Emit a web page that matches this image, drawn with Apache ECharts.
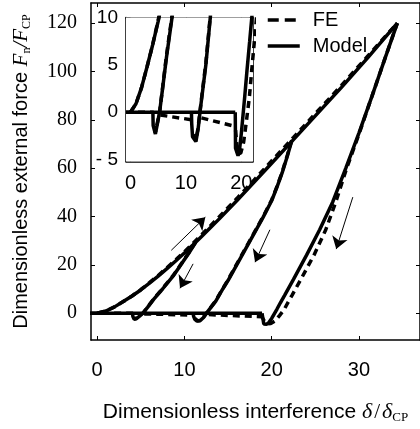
<!DOCTYPE html>
<html>
<head>
<meta charset="UTF-8">
<title>Force - interference</title>
<script src="https://cdn.jsdelivr.net/npm/echarts@6.0.0/dist/echarts.min.js"></script>
</head>
<body style="margin:0;background:#fff">
<div id="chart" style="width:420px;height:429px"></div>
<script>
// model curves (solid)
var loadX = [0, 1, 2, 3, 4, 5, 6, 7, 8, 9, 10, 11, 12, 13, 14, 16, 18, 20, 22.5, 25, 28, 31, 34.4];
var loadY = [0, 0.9, 2.6, 4.8, 7.1, 9.6, 12.4, 15.3, 18.4, 21.6, 24.9, 28.3, 31.8, 35.4, 39, 46.5, 54.2, 62, 71.8, 81.6, 93.4, 105.6, 120];
var un1X = [11.3, 10.5, 9.6, 8.7, 7.5, 6.5, 5.8, 5.3, 4.9, 4.5, 4.25, 4.1, 4.05];
var un1Y = [29.3, 24.8, 20, 15.3, 10, 5.8, 2.5, 0.2, -1.1, -2.3, -2.5, -1.4, 0];
var un2X = [22.3, 21.8, 21.2, 20.6, 20, 19, 18, 17, 16, 15, 14.4, 13.6, 12.6, 12.2, 11.8, 11.45, 11.2, 11.05, 11.0];
var un2Y = [71.2, 65, 58, 52, 46.5, 39.5, 33, 26.5, 20, 13.5, 10, 5, 0.3, -1.8, -3.1, -3.3, -2.6, -1.2, 0];
var un3X = [34.4, 33, 31.5, 30, 28.5, 27, 25.5, 24, 22.5, 21.5, 21, 20.6, 20.3, 20, 19.7, 19.4, 19.1, 18.95, 18.9];
var un3Y = [120, 105.5, 89.8, 74.5, 60, 46, 34.5, 24, 14, 7.5, 4.3, 1.6, -0.3, -2.2, -3.8, -4.6, -4.5, -3.8, 0];
var zeroX = [-0.8, 18.9];
var zeroY = [0, 0];

// FE curves (dashed)
var feLoadX = loadX;
var feLoadY = [0, 0.9, 2.6, 4.8, 7.1, 9.7, 12.6, 15.6, 18.8, 22, 25.4, 28.9, 32.5, 36.2, 39.9, 47.4, 55.1, 63, 72.7, 82.5, 94.2, 106.3, 120];
var feUn1X = [11.3, 10.5, 9.6, 8.7, 7.5, 6.5, 5.8, 5.3, 4.9, 4.55, 4.35];
var feUn1Y = [29.5, 25, 20.2, 15.5, 10.2, 6, 2.6, 0.2, -1, -2, -2.2];
var feUn2X = [22.3, 21.8, 21.2, 20.6, 20, 19, 18, 17, 16, 15, 14.4, 13.6, 12.6, 12.2, 11.8, 11.5, 11.25];
var feUn2Y = [71.5, 65.3, 58.3, 52.3, 46.8, 39.8, 33.3, 26.8, 20.3, 13.8, 10.2, 5.2, 0.4, -1.6, -3, -3.2, -2.2];
var feUn3X = [34.4, 33, 31.5, 30.05, 28.6, 27.35, 26.2, 24.85, 23.35, 22.35, 21.85, 21.45, 20.9, 20.4, 19.9, 19.5, 19.2, 19.0, 18.9];
var feUn3Y = [120, 105.5, 89.8, 74.5, 60, 46, 34.5, 24, 14, 7.5, 4.3, 1.6, -1.0, -3.2, -4.3, -4.4, -3.5, -2.2, -1.5];
var feZ0X = [-0.8, 4.2], feZ0Y = [0, 0];
var feZ1X = [5.4, 11.1], feZ1Y = [-0.3, -0.8];
var feZ2X = [12.8, 18.9], feZ2Y = [-0.6, -1.5];

// arrows: [tail, head]
var arrows = [
  [[8.5, 26.0], [12.4, 39.7]],
  [[11.0, 20.4], [9.5, 10.3]],
  [[19.8, 34.5], [18.1, 21.1]],
  [[29.3, 48.0], [27.4, 26.5]]
];

// ticks
var mainXTicks = [0, 10, 20, 30];
var mainYTicks = [0, 20, 40, 60, 80, 100, 120];
var insetXTicks = [0, 10, 20];
var insetYTicks = [-5, 0, 5, 10];

var SANS = "'Liberation Sans', Arial, sans-serif";
var SERIF = "'Liberation Serif', 'Times New Roman', serif";

function pts(xs, ys) {
  return xs.map(function (x, i) { return [x, ys[i]]; });
}

var modelCurves = [[loadX, loadY], [un1X, un1Y], [un2X, un2Y], [un3X, un3Y], [zeroX, zeroY]];
var feCurves = [[feLoadX, feLoadY], [feUn1X, feUn1Y], [feUn2X, feUn2Y], [feUn3X, feUn3Y],
  [feZ0X, feZ0Y], [feZ1X, feZ1Y], [feZ2X, feZ2Y]];

var series = [];
[0, 2].forEach(function (ax) {
  modelCurves.forEach(function (c) {
    series.push({
      name: 'Model', type: 'line', xAxisIndex: ax, yAxisIndex: ax,
      data: pts(c[0], c[1]), symbol: 'none', showSymbol: false, z: 3,
      lineStyle: { color: '#000', width: 3.5 }, itemStyle: { color: '#000' }
    });
  });
  feCurves.forEach(function (c) {
    series.push({
      name: 'FE', type: 'line', xAxisIndex: ax, yAxisIndex: ax,
      data: pts(c[0], c[1]), symbol: 'none', showSymbol: false, z: 4,
      lineStyle: { color: '#000', width: 3.5, type: [7, 5] }, itemStyle: { color: '#000' }
    });
  });
});
series.push({
  type: 'lines', coordinateSystem: 'cartesian2d', xAxisIndex: 0, yAxisIndex: 0,
  symbol: ['none', 'arrow'], symbolSize: 12, silent: true, z: 5,
  lineStyle: { color: '#000', width: 1, opacity: 1 },
  data: arrows.map(function (a) { return { coords: a }; })
});

function frameAxis(extra) {
  var base = {
    type: 'value',
    axisLine: { show: true, onZero: false, lineStyle: { color: '#000', width: 1.5 } },
    axisTick: { show: true, inside: true, length: 4, lineStyle: { color: '#000', width: 1 } },
    axisLabel: { show: false },
    splitLine: { show: false }
  };
  return Object.assign(base, extra);
}

var chart = echarts.init(document.getElementById('chart'), null, { renderer: 'canvas' });
chart.setOption({
  animation: false,
  backgroundColor: '#fff',
  legend: {
    data: [
      { name: 'FE', lineStyle: { type: [11, 6], width: 3.5 } },
      { name: 'Model', lineStyle: { type: 'solid', width: 3.5 } }
    ],
    orient: 'vertical', left: 266, top: 10,
    itemWidth: 32, itemHeight: 14, itemGap: 6, selectedMode: false, padding: 0,
    itemStyle: { opacity: 0, borderWidth: 0 },
    textStyle: { fontSize: 20, fontFamily: SANS, color: '#000', padding: [0, 0, 0, 8] }
  },
  grid: [
    { left: 91, top: 3, width: 340, height: 345 },
    { left: 126, top: 17.5, width: 127, height: 144, show: true, backgroundColor: '#fff', borderWidth: 0, z: 1 }
  ],
  xAxis: [
    frameAxis({
      gridIndex: 0, position: 'bottom', min: -0.7, max: 37,
      axisTick: { show: true, inside: true, length: 4, customValues: mainXTicks, lineStyle: { color: '#000' } },
      axisLabel: { show: true, customValues: mainXTicks, fontSize: 20, fontFamily: SANS, color: '#000', margin: 20 },
      name: '{t|Dimensionless interference }{m|δ}{r|/}{m|δ}{s|CP}',
      nameLocation: 'middle', nameGap: 60,
      nameTextStyle: {
        rich: {
          t: { fontSize: 21, fontFamily: SANS, color: '#000', lineHeight: 24 },
          m: { fontSize: 22, fontFamily: SERIF, fontStyle: 'italic', color: '#000', lineHeight: 24 },
          r: { fontSize: 21, fontFamily: SERIF, color: '#000', lineHeight: 24, padding: [0, 2, 0, 2] },
          s: { fontSize: 13, fontFamily: SERIF, color: '#000', lineHeight: 14, verticalAlign: 'bottom' }
        }
      }
    }),
    frameAxis({ gridIndex: 0, position: 'top', min: -0.7, max: 37,
      axisTick: { show: true, inside: true, length: 4, customValues: mainXTicks, lineStyle: { color: '#000' } } }),
    frameAxis({
      gridIndex: 1, position: 'bottom', min: -0.8, max: 22.1,
      axisTick: { show: true, inside: true, length: 4, customValues: insetXTicks, lineStyle: { color: '#000' } },
      axisLabel: { show: true, customValues: insetXTicks, fontSize: 20, fontFamily: SANS, color: '#000', margin: 12 }
    }),
    frameAxis({ gridIndex: 1, position: 'top', min: -0.8, max: 22.1,
      axisTick: { show: true, inside: true, length: 4, customValues: insetXTicks, lineStyle: { color: '#000' } } })
  ],
  yAxis: [
    frameAxis({
      gridIndex: 0, position: 'left', min: -11.1, max: 128.3,
      axisTick: { show: true, inside: true, length: 4, customValues: mainYTicks, lineStyle: { color: '#000' } },
      axisLabel: { show: true, customValues: mainYTicks, fontSize: 20, fontFamily: SERIF, color: '#000', margin: 14 },
      name: '{t|Dimensionless external force }{m|F}{s|n}{m|/F}{s|CP}',
      nameLocation: 'middle', nameGap: 58,
      nameTextStyle: {
        rich: {
          t: { fontSize: 20, fontFamily: SANS, color: '#000', lineHeight: 24 },
          m: { fontSize: 21, fontFamily: SERIF, fontStyle: 'italic', color: '#000', lineHeight: 24 },
          s: { fontSize: 12, fontFamily: SERIF, color: '#000', lineHeight: 14, verticalAlign: 'bottom' }
        }
      }
    }),
    frameAxis({ gridIndex: 0, position: 'right', min: -11.1, max: 128.3,
      axisTick: { show: true, inside: true, length: 4, customValues: mainYTicks, lineStyle: { color: '#000' } } }),
    frameAxis({
      gridIndex: 1, position: 'left', min: -5.2, max: 10,
      axisTick: { show: true, inside: true, length: 4, customValues: insetYTicks, lineStyle: { color: '#000' } },
      axisLabel: {
        show: true, customValues: insetYTicks, fontSize: 19, fontFamily: SANS, color: '#000', margin: 8,
        formatter: function (v) { return v < 0 ? '- ' + (-v) : String(v); }
      }
    }),
    frameAxis({ gridIndex: 1, position: 'right', min: -5.2, max: 10,
      axisTick: { show: true, inside: true, length: 4, customValues: insetYTicks, lineStyle: { color: '#000' } } })
  ],
  series: series
});
</script>
</body>
</html>
